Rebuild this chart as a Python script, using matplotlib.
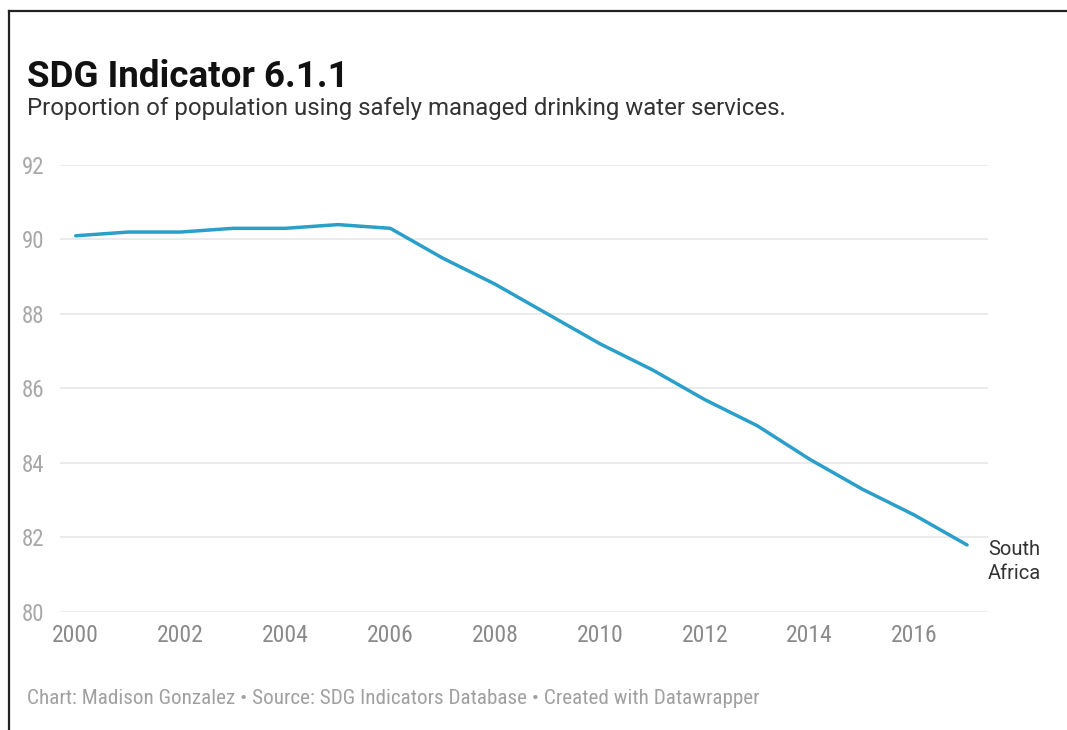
import matplotlib.pyplot as plt
from matplotlib.lines import Line2D

years = list(range(2000, 2018))
safe_water = [90.1, 90.2, 90.2, 90.3, 90.3, 90.4, 90.3, 89.5, 88.8, 88.0,
              87.2, 86.5, 85.7, 85.0, 84.1, 83.3, 82.6, 81.8]
y_ticks = [80, 82, 84, 86, 88, 90, 92]
x_ticks = list(range(2000, 2017, 2))
country = 'South\nAfrica'

W, H = 1067, 730
COND = 'Roboto Condensed'
fig = plt.figure(figsize=(W / 100, H / 100), dpi=100)
fig.patch.set_facecolor('white')

def px(x, y):
    # pixel coords (top-left origin) -> figure fraction
    return x / W, 1 - y / H

# plot area: gridlines run from x=60 to x=988, 92 at y=165, 80 at y=612
left, top = px(60, 165)
right, bottom = px(988, 612)
ax = fig.add_axes([left, bottom, right - left, top - bottom])
ax.set_xlim(1999.7, 2017.4)
ax.set_ylim(80, 92)

for t in y_ticks:
    ax.axhline(t, color='#e6e6e6', lw=1.1, zorder=1)
ax.plot(years, safe_water, color='#2a9fc9', lw=2.5, zorder=3,
        solid_joinstyle='round', solid_capstyle='round')

for s in ax.spines.values():
    s.set_visible(False)
ax.tick_params(length=0)
ax.set_yticks(y_ticks)
ax.set_yticklabels([str(t) for t in y_ticks], fontfamily=COND,
                   fontsize=16.5, color='#a8a8a8')
ax.set_xticks(x_ticks)
ax.set_xticklabels([str(t) for t in x_ticks], fontfamily=COND,
                   fontsize=17, color='#8a8a8a')
ax.tick_params(axis='x', pad=9)
for lab in ax.get_yticklabels():
    lab.set_horizontalalignment('left')
    lab.set_x(-0.036)

ax.text(years[-1] + 0.4, safe_water[-1] + 0.12, country, fontfamily='Roboto',
        fontsize=14.5, color='#333333', va='top', ha='left', linespacing=1.3)

fig.text(*px(27, 77), 'SDG Indicator 6.1.1', fontfamily='Roboto',
         fontweight='bold', fontsize=26.5, color='#111111', va='center')
fig.text(*px(27, 109), 'Proportion of population using safely managed drinking water services.',
         fontfamily='Roboto', fontsize=17.3, color='#333333', va='center')
fig.text(*px(27, 698), 'Chart: Madison Gonzalez \u2022 Source: SDG Indicators Database \u2022 Created with Datawrapper',
         fontfamily=COND, fontsize=15.2, color='#a0a0a0', va='center')

# frame edges along top and left
fig.add_artist(Line2D([9 / W, 9 / W], [1 - 11 / H, 0], color='#222222', lw=1.6))
fig.add_artist(Line2D([9 / W, 1], [1 - 11 / H, 1 - 11 / H], color='#222222', lw=1.6))

fig.savefig('out.png', dpi=100, facecolor='white')
